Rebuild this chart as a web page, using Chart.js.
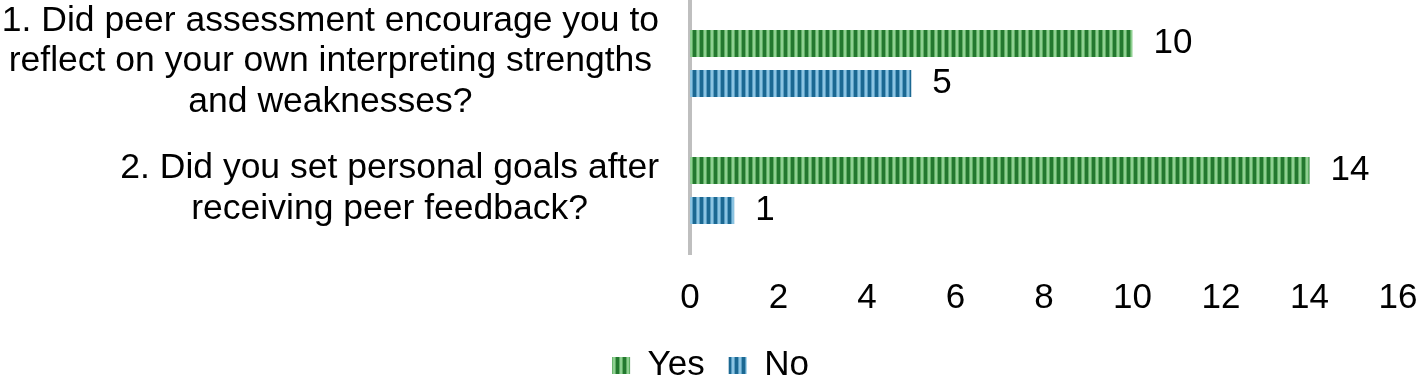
<!DOCTYPE html>
<html>
<head>
<meta charset="utf-8">
<script src="https://cdn.jsdelivr.net/npm/chart.js@4/dist/chart.umd.min.js"></script>
<style>
  html, body { margin: 0; padding: 0; background: #ffffff; }
  #wrap { width: 1421px; height: 392px; position: relative; }
</style>
</head>
<body>
<div id="wrap"><canvas id="chart"></canvas></div>
<script>
const categories = [
    ['1. Did peer assessment encourage you to', 'reflect on your own interpreting strengths', 'and weaknesses?'],
    ['2. Did you set personal goals after', 'receiving peer feedback?']
];
const yesValues = [10, 14];
const noValues = [5, 1];
const xMin = 0;
const xMax = 16;
const xStep = 2;

const FONT = "'Liberation Sans', Arial, sans-serif";

// vertical stripe fill like the office chart style
function makeStripes(dark, mid, light) {
    const c = document.createElement('canvas');
    c.width = 7;
    c.height = 1;
    const g = c.getContext('2d');
    const cols = [dark, dark, dark, mid, light, light, mid];
    cols.forEach((col, i) => {
        g.fillStyle = col;
        g.fillRect(i, 0, 1, 1);
    });
    return g.createPattern(c, 'repeat');
}

const greenFill = makeStripes('#23782f', '#5fae63', '#8fd092');
const blueFill = makeStripes('#1b6892', '#5a9ec4', '#8cc4e2');

const valueLabels = {
    id: 'valueLabels',
    afterDatasetsDraw(chart) {
        const ctx = chart.ctx;
        ctx.save();
        ctx.font = '35px ' + FONT;
        ctx.fillStyle = '#000000';
        ctx.textAlign = 'left';
        ctx.textBaseline = 'middle';
        chart.data.datasets.forEach((ds, di) => {
            const meta = chart.getDatasetMeta(di);
            meta.data.forEach((bar, i) => {
                ctx.fillText(String(ds.data[i]), bar.x + 21, bar.y);
            });
        });
        ctx.restore();
    }
};

// wrapped category labels, each block centered on itself and right-aligned
const categoryLabels = {
    id: 'categoryLabels',
    afterDraw(chart) {
        const ctx = chart.ctx;
        const yScale = chart.scales.y;
        const right = yScale.right - 31;
        const lineH = 40.5;
        ctx.save();
        ctx.font = '35.5px ' + FONT;
        ctx.fillStyle = '#000000';
        ctx.textAlign = 'center';
        ctx.textBaseline = 'middle';
        chart.data.labels.forEach((lines, i) => {
            const y = yScale.getPixelForValue(i) - 2;
            const maxW = Math.max(...lines.map(l => ctx.measureText(l).width));
            const cx = right - maxW / 2;
            const y0 = y - (lines.length - 1) / 2 * lineH;
            lines.forEach((l, j) => ctx.fillText(l, cx, y0 + j * lineH));
        });
        ctx.restore();
    }
};

new Chart(document.getElementById('chart').getContext('2d'), {
    type: 'bar',
    data: {
        labels: categories,
        datasets: [
            {
                label: 'Yes',
                data: yesValues,
                backgroundColor: greenFill,
                borderWidth: 0,
                categoryPercentage: 0.63,
                barPercentage: 0.675
            },
            {
                label: 'No',
                data: noValues,
                backgroundColor: blueFill,
                borderWidth: 0,
                categoryPercentage: 0.63,
                barPercentage: 0.675
            }
        ]
    },
    options: {
        indexAxis: 'y',
        responsive: true,
        maintainAspectRatio: false,
        animation: false,
        layout: {
            padding: 0
        },
        plugins: {
            tooltip: { enabled: false },
            legend: {
                position: 'bottom',
                maxHeight: 68,
                labels: {
                    font: { family: FONT, size: 35, lineHeight: 1 },
                    color: '#000000',
                    boxWidth: 18,
                    boxHeight: 17,
                    padding: 24
                }
            }
        },
        scales: {
            x: {
                min: xMin,
                max: xMax,
                grid: { display: false, drawTicks: false },
                border: { display: false },
                ticks: {
                    stepSize: xStep,
                    padding: 27,
                    color: '#000000',
                    font: { family: FONT, size: 35, lineHeight: 1 },
                    maxRotation: 0
                },
                afterFit(scale) {
                    scale.height = 70;
                    scale.paddingRight = 23;
                }
            },
            y: {
                grid: { display: false, drawTicks: false },
                border: { display: true, color: '#bfbfbf', width: 4 },
                ticks: { display: false },
                afterFit(scale) {
                    scale.width = 690;
                }
            }
        }
    },
    plugins: [valueLabels, categoryLabels]
});
</script>
</body>
</html>
